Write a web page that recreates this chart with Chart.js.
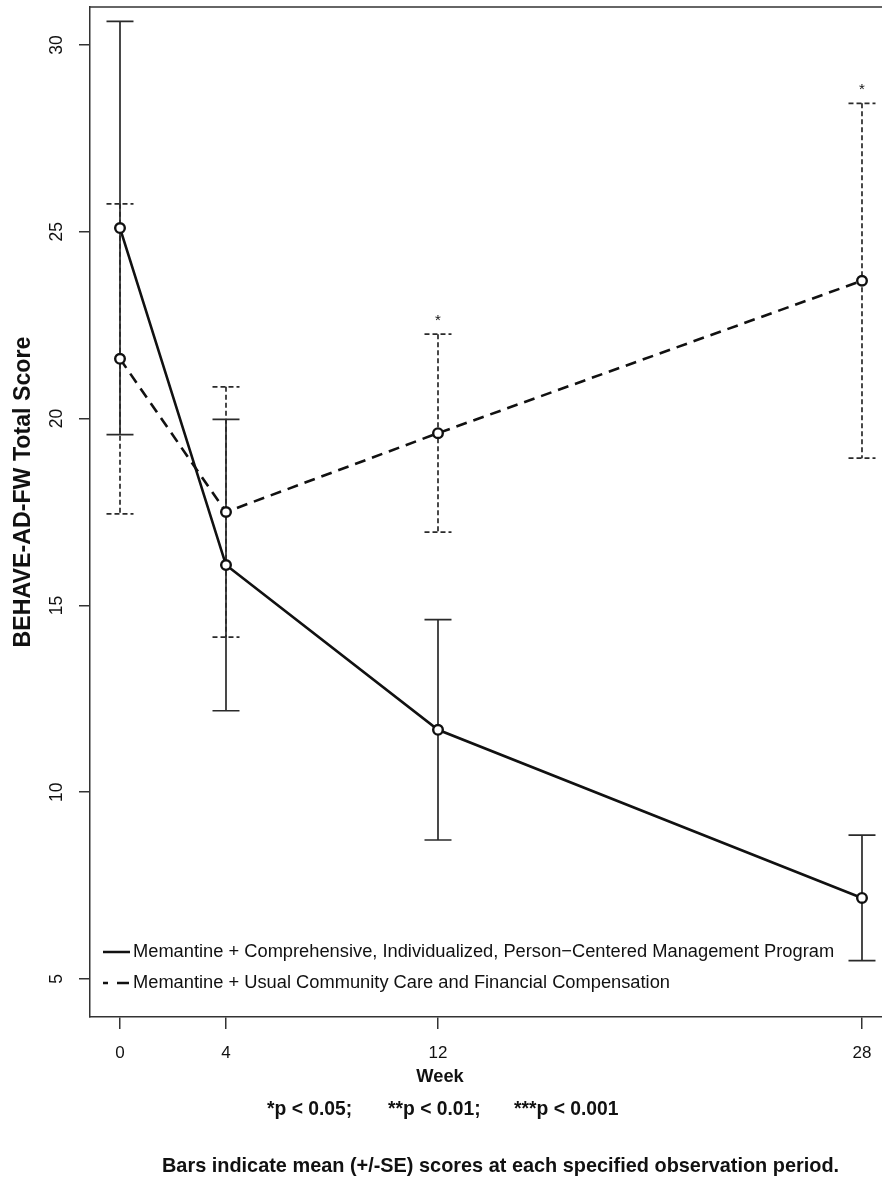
<!DOCTYPE html>
<html>
<head>
<meta charset="utf-8">
<script src="https://cdn.jsdelivr.net/npm/chart.js@4.4.1/dist/chart.umd.min.js"></script>
<style>
  html, body { margin: 0; padding: 0; background: #fff; overflow: hidden; }
  #wrap { width: 882px; height: 1177px; }
</style>
</head>
<body>
<div id="wrap"><canvas id="chart" width="882" height="1177"></canvas></div>
<script>
// Chart data
const weeks = [0, 4, 12, 28];
const xTicks = [0, 4, 12, 28];
const yTicks = [5, 10, 15, 20, 25, 30];
const comprehensiveMean = [25.1, 16.08, 11.67, 7.17];
const comprehensiveSE = [5.53, 3.9, 2.95, 1.68];
const usualMean = [21.6, 17.5, 19.61, 23.69];
const usualSE = [4.15, 3.35, 2.65, 4.75];
const usualSig = ['', '', '*', '*'];
const seriesLabels = [
  'Memantine + Comprehensive, Individualized, Person\u2212Centered Management Program',
  'Memantine + Usual Community Care and Financial Compensation'
];

const FONT = '"Liberation Sans", Arial, Helvetica, sans-serif';
const INK = '#111';

// error bars drawn through the scales
const errorBars = {
  id: 'errorBars',
  beforeDatasetsDraw(chart) {
    const { ctx, scales: { x, y } } = chart;
    const groups = [
      { mean: usualMean, se: usualSE, dash: [5, 3] },
      { mean: comprehensiveMean, se: comprehensiveSE, dash: [] }
    ];
    ctx.save();
    ctx.strokeStyle = '#2a2a2a';
    ctx.lineWidth = 1.7;
    groups.forEach(g => {
      ctx.setLineDash(g.dash);
      weeks.forEach((w, i) => {
        const px = x.getPixelForValue(w);
        const top = y.getPixelForValue(g.mean[i] + g.se[i]);
        const bot = y.getPixelForValue(g.mean[i] - g.se[i]);
        ctx.beginPath();
        ctx.moveTo(px, top); ctx.lineTo(px, bot);
        ctx.moveTo(px - 13.5, top); ctx.lineTo(px + 13.5, top);
        ctx.moveTo(px - 13.5, bot); ctx.lineTo(px + 13.5, bot);
        ctx.stroke();
      });
    });
    ctx.restore();
  }
};

// texts, legend, top border, rotated y labels
const decorations = {
  id: 'decorations',
  afterDraw(chart) {
    const { ctx, chartArea: a, scales: { x, y } } = chart;
    ctx.save();
    ctx.strokeStyle = '#333';
    ctx.lineWidth = 1.5;
    ctx.beginPath();
    ctx.moveTo(a.left, a.top); ctx.lineTo(a.right, a.top);
    ctx.stroke();

    ctx.fillStyle = INK;
    // y tick labels (rotated like R)
    ctx.font = '17.5px ' + FONT;
    ctx.textAlign = 'center';
    ctx.textBaseline = 'middle';
    yTicks.forEach(v => {
      ctx.save();
      ctx.translate(57, y.getPixelForValue(v));
      ctx.rotate(-Math.PI / 2);
      ctx.fillText(String(v), 0, 0);
      ctx.restore();
    });

    // y title
    ctx.save();
    ctx.translate(24, 492);
    ctx.rotate(-Math.PI / 2);
    ctx.font = 'bold 23.2px ' + FONT;
    ctx.fillText('BEHAVE-AD-FW Total Score', 0, 0);
    ctx.restore();

    // asterisks
    ctx.font = '15px ' + FONT;
    weeks.forEach((w, i) => {
      if (!usualSig[i]) return;
      ctx.fillText(usualSig[i], x.getPixelForValue(w), y.getPixelForValue(usualMean[i] + usualSE[i]) - 13);
    });

    // legend
    ctx.font = '18.3px ' + FONT;
    ctx.textAlign = 'left';
    ctx.strokeStyle = INK;
    ctx.lineWidth = 2.5;
    ctx.beginPath();
    ctx.moveTo(103, 952); ctx.lineTo(130, 952);
    ctx.moveTo(103, 983); ctx.lineTo(108, 983);
    ctx.moveTo(117, 983); ctx.lineTo(129, 983);
    ctx.stroke();
    ctx.fillText(seriesLabels[0], 133, 952);
    ctx.fillText(seriesLabels[1], 133, 983);

    // x title and notes
    ctx.textAlign = 'center';
    ctx.font = 'bold 18.3px ' + FONT;
    ctx.fillText('Week', 440, 1077);
    ctx.textAlign = 'left';
    ctx.textBaseline = 'alphabetic';
    ctx.font = 'bold 19.3px ' + FONT;
    ctx.fillText('*p < 0.05;', 267, 1115);
    ctx.fillText('**p < 0.01;', 388, 1115);
    ctx.fillText('***p < 0.001', 514, 1115);
    ctx.font = 'bold 19.9px ' + FONT;
    ctx.fillText('Bars indicate mean (+/-SE) scores at each specified observation period.', 162, 1172);
    ctx.restore();
  }
};

new Chart(document.getElementById('chart').getContext('2d'), {
  type: 'line',
  data: {
    datasets: [
      {
        label: seriesLabels[0],
        data: weeks.map((w, i) => ({ x: w, y: comprehensiveMean[i] })),
        borderColor: INK, borderWidth: 2.6,
        pointRadius: 4.8, pointBorderWidth: 2.4, pointBorderColor: INK, pointBackgroundColor: '#fff'
      },
      {
        label: seriesLabels[1],
        data: weeks.map((w, i) => ({ x: w, y: usualMean[i] })),
        borderColor: INK, borderWidth: 2.6, borderDash: [11, 7],
        pointRadius: 4.8, pointBorderWidth: 2.4, pointBorderColor: INK, pointBackgroundColor: '#fff'
      }
    ]
  },
  options: {
    responsive: false,
    animation: false,
    devicePixelRatio: 1,
    layout: { autoPadding: false, padding: { top: 7, left: 0, right: 0, bottom: 0 } },
    plugins: { legend: { display: false }, tooltip: { enabled: false } },
    scales: {
      x: {
        type: 'linear', min: -1.132, max: 28.755,
        afterBuildTicks: s => { s.ticks = xTicks.map(v => ({ value: v })); },
        afterFit: s => { s.height = 160; s.paddingLeft = 0; s.paddingRight = 0; },
        grid: { drawOnChartArea: false, drawTicks: true, tickLength: 12, color: '#333', lineWidth: 1.5 },
        border: { display: true, color: '#333', width: 1.5 },
        ticks: { font: { family: FONT, size: 17 }, color: INK, padding: 14, maxRotation: 0, autoSkip: false }
      },
      y: {
        type: 'linear', min: 3.983, max: 31.017,
        afterBuildTicks: s => { s.ticks = yTicks.map(v => ({ value: v })); },
        afterFit: s => { s.width = 90; s.paddingTop = 0; s.paddingBottom = 0; },
        grid: { drawOnChartArea: false, drawTicks: true, tickLength: 11, color: '#333', lineWidth: 1.5 },
        border: { display: true, color: '#333', width: 1.5 },
        ticks: { display: false }
      }
    }
  },
  plugins: [errorBars, decorations]
});
</script>
</body>
</html>
